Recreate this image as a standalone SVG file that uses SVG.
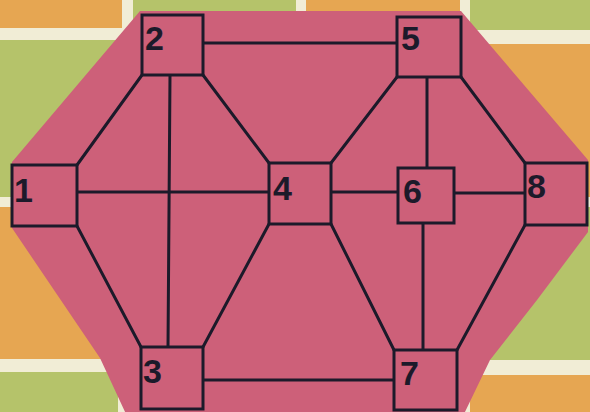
<svg xmlns="http://www.w3.org/2000/svg" width="590" height="412" viewBox="0 0 590 412">
  <style>
    .o { fill: #e6a652; }
    .g { fill: #b5c36a; }
    .box { fill: #cd6079; stroke: #1c1a2a; stroke-width: 3; }
    .edge { stroke: #1c1a2a; stroke-width: 3; fill: none; stroke-linecap: round; }
    .lbl { font-family: "Liberation Sans", Arial, sans-serif; font-weight: bold; font-size: 34px; fill: #1c1a2a; }
  </style>
  <!-- tiled background -->
  <rect x="0" y="0" width="590" height="412" fill="#f1edd6"/>
  <rect class="o" x="0" y="0" width="122" height="28"/>
  <rect class="g" x="133" y="0" width="163" height="28"/>
  <rect class="o" x="306" y="0" width="154" height="29"/>
  <rect class="g" x="470" y="0" width="120" height="30"/>
  <rect class="g" x="0" y="40" width="122" height="157"/>
  <rect class="o" x="133" y="40" width="163" height="157"/>
  <rect class="g" x="306" y="40" width="154" height="157"/>
  <rect class="o" x="470" y="44" width="120" height="153"/>
  <rect class="o" x="0" y="207" width="122" height="152"/>
  <rect class="g" x="133" y="207" width="163" height="152"/>
  <rect class="o" x="306" y="207" width="154" height="152"/>
  <rect class="g" x="470" y="207" width="120" height="153"/>
  <rect class="g" x="0" y="372" width="118" height="40"/>
  <rect class="o" x="129" y="372" width="167" height="40"/>
  <rect class="g" x="306" y="372" width="154" height="40"/>
  <rect class="o" x="470" y="375" width="120" height="37"/>
  <!-- pink hexagon -->
  <polygon points="140,11 461,11 588,160 588,232 537,300 490,360 464,414 126,414 100,358 12,228 12,162" fill="#cd6079"/>
  <!-- connectors -->
  <g id="connectors">
    <line class="edge" x1="203" y1="43" x2="397" y2="43"/>
    <line class="edge" x1="142" y1="75" x2="77" y2="165"/>
    <line class="edge" x1="203" y1="75" x2="269" y2="163"/>
    <line class="edge" x1="170" y1="75" x2="168" y2="347"/>
    <line class="edge" x1="77" y1="192" x2="269" y2="192"/>
    <line class="edge" x1="77" y1="226" x2="141" y2="347"/>
    <line class="edge" x1="269" y1="224" x2="203" y2="347"/>
    <line class="edge" x1="397" y1="77" x2="331" y2="163"/>
    <line class="edge" x1="427" y1="77" x2="427" y2="168"/>
    <line class="edge" x1="461" y1="77" x2="525" y2="163"/>
    <line class="edge" x1="331" y1="192" x2="398" y2="192"/>
    <line class="edge" x1="454" y1="193" x2="525" y2="193"/>
    <line class="edge" x1="331" y1="224" x2="394" y2="350"/>
    <line class="edge" x1="423" y1="223" x2="423" y2="350"/>
    <line class="edge" x1="525" y1="225" x2="457" y2="350"/>
    <line class="edge" x1="203" y1="380" x2="394" y2="380"/>
  </g>
  <!-- nodes -->
  <g id="node1"><rect class="box" x="12" y="165" width="65" height="61"/><text class="lbl" x="14" y="202">1</text></g>
  <g id="node2"><rect class="box" x="142" y="15" width="61" height="60"/><text class="lbl" x="145" y="50">2</text></g>
  <g id="node3"><rect class="box" x="141" y="347" width="62" height="62"/><text class="lbl" x="143" y="383">3</text></g>
  <g id="node4"><rect class="box" x="269" y="163" width="62" height="61"/><text class="lbl" x="273" y="200">4</text></g>
  <g id="node5"><rect class="box" x="397" y="17" width="64" height="60"/><text class="lbl" x="401" y="50">5</text></g>
  <g id="node6"><rect class="box" x="398" y="168" width="56" height="55"/><text class="lbl" x="403" y="203">6</text></g>
  <g id="node7"><rect class="box" x="394" y="350" width="63" height="60"/><text class="lbl" x="400" y="385">7</text></g>
  <g id="node8"><rect class="box" x="525" y="163" width="62" height="62"/><text class="lbl" x="527" y="198">8</text></g>
</svg>
